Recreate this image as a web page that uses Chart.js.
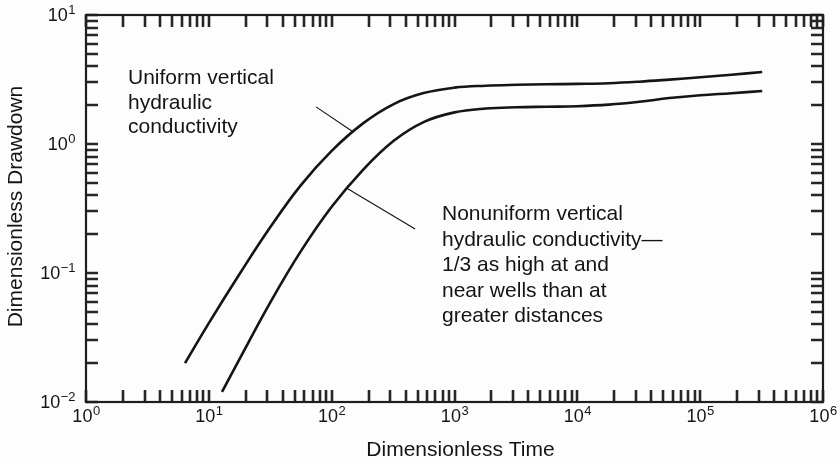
<!DOCTYPE html>
<html>
<head>
<meta charset="utf-8">
<script src="https://cdn.jsdelivr.net/npm/chart.js@4.4.1/dist/chart.umd.min.js"></script>
<style>
  html, body { margin: 0; padding: 0; background: #fdfdfd; }
  #wrap { width: 840px; height: 464px; }
</style>
</head>
<body>
<div id="wrap"><canvas id="c" width="840" height="464"></canvas></div>
<script>
// Type curves: dimensionless drawdown vs. dimensionless time
const uniformTime     = [6.4, 10, 18, 32, 56, 100, 180, 320, 560, 1000, 1800, 3200, 5600, 10000, 18000, 32000, 56000, 100000, 180000, 320000];
const uniformDrawdown = [0.020, 0.0409, 0.100, 0.230, 0.478, 0.885, 1.445, 2.04, 2.48, 2.735, 2.831, 2.877, 2.904, 2.924, 2.958, 3.041, 3.155, 3.289, 3.443, 3.614];

const nonuniformTime     = [12.8, 18, 32, 56, 100, 180, 320, 560, 1000, 1800, 3200, 5600, 10000, 18000, 32000, 56000, 100000, 180000, 320000];
const nonuniformDrawdown = [0.012, 0.0220, 0.0603, 0.147, 0.326, 0.631, 1.059, 1.479, 1.758, 1.884, 1.928, 1.945, 1.963, 2.018, 2.123, 2.27, 2.388, 2.477, 2.576];

// Decade exponents for the axes
const xDecades = [0, 1, 2, 3, 4, 5, 6];
const yDecades = [-2, -1, 0, 1];

const xTitle = 'Dimensionless Time';
const yTitle = 'Dimensionless Drawdown';
const uniformNote = ['Uniform vertical', 'hydraulic', 'conductivity'];
const nonuniformNote = ['Nonuniform vertical', 'hydraulic conductivity\u2014', '1/3 as high at and', 'near wells than at', 'greater distances'];

const FONT = '"Liberation Sans", Arial, Helvetica, sans-serif';
const INK = '#141414';

// 1..9 x 10^n tick values for every decade plus the last power of ten
function logTickValues(decades) {
  const vals = [];
  for (let i = 0; i < decades.length - 1; i++) {
    const base = Math.pow(10, decades[i]);
    for (let m = 1; m < 10; m++) vals.push(m * base);
  }
  vals.push(Math.pow(10, decades[decades.length - 1]));
  return vals;
}

// "10" with a raised exponent
function drawPower(ctx, exp, x, y, align) {
  const base = '10';
  const sup = exp < 0 ? '\u2212' + Math.abs(exp) : String(exp);
  ctx.font = '18px ' + FONT;
  const wb = ctx.measureText(base).width;
  ctx.font = '13px ' + FONT;
  const ws = ctx.measureText(sup).width;
  const total = wb + ws;
  const start = align === 'right' ? x - total : x - total / 2;
  ctx.textAlign = 'left';
  ctx.textBaseline = 'alphabetic';
  ctx.font = '18px ' + FONT;
  ctx.fillText(base, start, y);
  ctx.font = '13px ' + FONT;
  ctx.fillText(sup, start + wb + 0.5, y - 7.5);
}

const framePlugin = {
  id: 'frame',
  beforeDraw(chart) {
    const ctx = chart.ctx;
    ctx.save();
    ctx.fillStyle = '#fdfdfd';
    ctx.fillRect(0, 0, chart.width, chart.height);
    ctx.restore();
  },
  afterDraw(chart) {
    const { ctx, chartArea: a, scales } = chart;
    const xs = scales.x, ys = scales.y;
    ctx.save();

    // inward ticks on all four sides
    ctx.strokeStyle = '#262626';
    ctx.lineWidth = 2.6;
    const len = 12;
    logTickValues(xDecades).forEach(v => {
      const px = Math.round(xs.getPixelForValue(v));
      ctx.beginPath();
      ctx.moveTo(px, a.bottom); ctx.lineTo(px, a.bottom - len);
      ctx.moveTo(px, a.top); ctx.lineTo(px, a.top + len);
      ctx.stroke();
    });
    logTickValues(yDecades).forEach(v => {
      const py = Math.round(ys.getPixelForValue(v));
      ctx.beginPath();
      ctx.moveTo(a.left, py); ctx.lineTo(a.left + len, py);
      ctx.moveTo(a.right, py); ctx.lineTo(a.right - len, py);
      ctx.stroke();
    });

    // plot frame
    ctx.strokeStyle = '#1e1e1e';
    ctx.lineWidth = 2.2;
    ctx.strokeRect(a.left, a.top, a.right - a.left, a.bottom - a.top);

    // tick labels
    ctx.fillStyle = INK;
    xDecades.forEach(e => drawPower(ctx, e, xs.getPixelForValue(Math.pow(10, e)), a.bottom + 20, 'center'));
    yDecades.forEach(e => drawPower(ctx, e, a.left - 11, ys.getPixelForValue(Math.pow(10, e)) + 6, 'right'));

    // axis titles
    ctx.font = '21px ' + FONT;
    ctx.textAlign = 'center';
    ctx.textBaseline = 'alphabetic';
    ctx.fillText(xTitle, (a.left + a.right) / 2 + 6, 456);
    ctx.save();
    ctx.translate(22, (a.top + a.bottom) / 2 - 2);
    ctx.rotate(-Math.PI / 2);
    ctx.fillText(yTitle, 0, 0);
    ctx.restore();

    // leader lines from the notes to the curves
    ctx.strokeStyle = INK;
    ctx.lineWidth = 1.1;
    const lead = (x1, y1, x2, y2) => {
      ctx.beginPath();
      ctx.moveTo(xs.getPixelForValue(x1), ys.getPixelForValue(y1));
      ctx.lineTo(xs.getPixelForValue(x2), ys.getPixelForValue(y2));
      ctx.stroke();
    };
    lead(74.6, 1.94, 149, 1.245);
    lead(133, 0.454, 478, 0.219);

    // notes
    ctx.font = '21px ' + FONT;
    ctx.textAlign = 'left';
    uniformNote.forEach((t, i) => ctx.fillText(t, 128, 84 + i * 24.5));
    nonuniformNote.forEach((t, i) => ctx.fillText(t, 442, 220 + i * 25.5));

    ctx.restore();
  }
};

const toPoints = (xs, ys) => xs.map((x, i) => ({ x: x, y: ys[i] }));

new Chart(document.getElementById('c'), {
  type: 'line',
  data: {
    datasets: [
      {
        label: 'Uniform vertical hydraulic conductivity',
        data: toPoints(uniformTime, uniformDrawdown),
        borderColor: INK, borderWidth: 2.6, pointRadius: 0,
        tension: 0.4, fill: false
      },
      {
        label: 'Nonuniform vertical hydraulic conductivity',
        data: toPoints(nonuniformTime, nonuniformDrawdown),
        borderColor: INK, borderWidth: 2.6, pointRadius: 0,
        tension: 0.4, fill: false
      }
    ]
  },
  options: {
    responsive: false,
    animation: false,
    layout: { padding: { left: 86, right: 17, top: 15, bottom: 62 } },
    scales: {
      x: { type: 'logarithmic', min: 1, max: 1e6, display: false },
      y: { type: 'logarithmic', min: 0.01, max: 10, display: false }
    },
    plugins: { legend: { display: false }, tooltip: { enabled: false } }
  },
  plugins: [framePlugin]
});
</script>
</body>
</html>
